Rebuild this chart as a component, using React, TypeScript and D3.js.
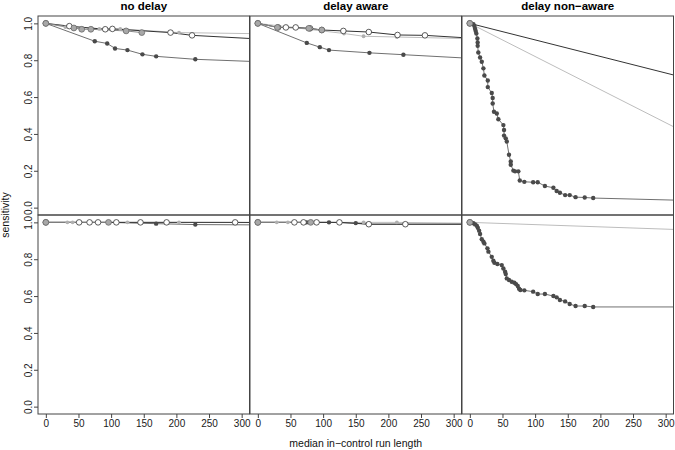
import React, { useEffect, useRef } from 'react';
import * as d3 from 'd3';

const columnTitles = ['no delay', 'delay aware', 'delay non\u2212aware'];
const xTickValues = [0, 50, 100, 150, 200, 250, 300];
const yTickValues = [0, 0.2, 0.4, 0.6, 0.8, 1.0];
const yTickLabels = ['0.0', '0.2', '0.4', '0.6', '0.8', '1.0'];

// top row, [median run length, sensitivity]
const noDelayTopLight = [[0, 1], [30, 0.98], [82, 0.97], [114, 0.97], [204, 0.95], [400, 0.94]];
const noDelayTopDark = [[0, 1], [75, 0.903], [94, 0.891], [106, 0.864], [125, 0.855], [148, 0.832], [169, 0.821], [229, 0.805], [400, 0.782]];
const noDelayTopOpen = [[0, 1], [36, 0.985], [91, 0.968], [102, 0.97], [191, 0.95], [224, 0.935], [400, 0.901]];
const noDelayTopGray = [[0, 1], [43, 0.975], [55, 0.968], [69, 0.968], [123, 0.959], [147, 0.95]];

const awareTopLight = [[0, 1], [132, 0.945], [162, 0.93], [213, 0.926], [400, 0.911]];
const awareTopDark = [[0, 1], [75, 0.894], [95, 0.871], [109, 0.855], [171, 0.84], [223, 0.83], [400, 0.796]];
const awareTopOpen = [[0, 1], [31, 0.978], [43, 0.978], [58, 0.978], [80, 0.973], [98, 0.964], [131, 0.959], [170, 0.953], [214, 0.937], [256, 0.935], [400, 0.904]];
const awareTopGray = [[0, 1], [30, 0.978], [78, 0.973], [98, 0.964]];

const nonAwareTopLight = [[0, 1], [400, 0.281]];
const nonAwareTopDark = [[0, 1], [5.5, 0.995], [7, 0.986], [8, 0.971], [9, 0.959], [10, 0.945], [11.6, 0.918], [12, 0.896], [12, 0.878], [13, 0.842], [15.7, 0.815], [18.3, 0.792], [20.8, 0.756], [22.3, 0.717], [27.5, 0.69], [27.5, 0.654], [33.6, 0.622], [35, 0.595], [35, 0.565], [37, 0.52], [41.3, 0.511], [43.7, 0.48], [51.4, 0.448], [52.4, 0.421], [52.4, 0.391], [55, 0.376], [56.6, 0.359], [60, 0.287], [62.7, 0.251], [62.7, 0.233], [66.7, 0.201], [69.3, 0.197], [74.3, 0.197], [76.5, 0.147], [83.5, 0.14], [97, 0.138], [104, 0.138], [115, 0.117], [128, 0.108], [133, 0.09], [138, 0.081], [146, 0.068], [153, 0.068], [162, 0.057], [176, 0.055], [189, 0.052], [400, 0.033]];
const nonAwareTopOpen = [[0, 1], [400, 0.641]];
const nonAwareTopGray = [[0, 1]];

// bottom row
const noDelayBottomLight = [[0, 1], [33, 1], [41, 1], [125, 1], [204, 1], [400, 0.998]];
const noDelayBottomDark = [[0, 1], [80, 1], [97, 1], [169, 0.993], [229, 0.988], [400, 0.985]];
const noDelayBottomOpen = [[0, 1], [51, 1], [67, 1], [80, 1], [108, 1], [145, 1], [185, 1], [290, 1], [400, 0.998]];
const noDelayBottomGray = [[0, 1], [96, 1]];

const awareBottomLight = [[0, 1], [29, 1], [46, 1], [84, 1], [162, 1], [213, 1], [400, 0.992]];
const awareBottomDark = [[0, 1], [75, 1], [109, 1], [150, 0.996], [170, 0.99], [400, 0.99]];
const awareBottomOpen = [[0, 1], [56, 1], [70, 1], [90, 1], [125, 1], [170, 0.99], [226, 0.99], [400, 0.99]];
const awareBottomGray = [[0, 1], [81, 1]];

const nonAwareBottomLight = [[0, 1], [400, 0.951]];
const nonAwareBottomDark = [[0, 1], [5.5, 0.995], [8.1, 0.989], [10.7, 0.982], [12.2, 0.971], [14.2, 0.955], [15.7, 0.937], [18.3, 0.908], [20.8, 0.895], [22.3, 0.886], [27, 0.859], [28.5, 0.841], [33.6, 0.813], [36, 0.792], [37.6, 0.781], [42.2, 0.774], [48.9, 0.768], [51.4, 0.75], [54, 0.732], [55, 0.72], [56.6, 0.696], [60, 0.687], [64.2, 0.678], [68.2, 0.672], [70.8, 0.665], [73.4, 0.655], [75.4, 0.64], [77.4, 0.633], [83.5, 0.631], [97, 0.624], [104, 0.611], [115, 0.611], [128, 0.6], [133, 0.593], [138, 0.579], [146, 0.571], [153, 0.557], [162, 0.546], [176, 0.546], [189, 0.541], [400, 0.541]];
const nonAwareBottomOpen = [[0, 1]];
const nonAwareBottomGray = [[0, 1]];

const rows = [
  [
    { light: noDelayTopLight, dark: noDelayTopDark, open: noDelayTopOpen, gray: noDelayTopGray },
    { light: awareTopLight, dark: awareTopDark, open: awareTopOpen, gray: awareTopGray },
    { light: nonAwareTopLight, dark: nonAwareTopDark, open: nonAwareTopOpen, gray: nonAwareTopGray },
  ],
  [
    { light: noDelayBottomLight, dark: noDelayBottomDark, open: noDelayBottomOpen, gray: noDelayBottomGray },
    { light: awareBottomLight, dark: awareBottomDark, open: awareBottomOpen, gray: awareBottomGray },
    { light: nonAwareBottomLight, dark: nonAwareBottomDark, open: nonAwareBottomOpen, gray: nonAwareBottomGray },
  ],
];

const styles = {
  light: { line: '#bdbdbd', fill: '#b0b0b0', stroke: 'none', r: 1.9 },
  dark: { line: '#707070', fill: '#4a4a4a', stroke: 'none', r: 2.2 },
  open: { line: '#333333', fill: '#ffffff', stroke: '#333', r: 2.8 },
  gray: { line: '#888888', fill: '#a8a8a8', stroke: '#6a6a6a', r: 2.9 },
};
const seriesOrder = ['light', 'dark', 'open', 'gray'];

const W = 675;
const H = 450;
const colLefts = [38, 250, 462];
const panelW = 211.5;
const rowTops = [16, 215];
const panelH = 199;
const font = 'Liberation Sans, Arial, Helvetica, sans-serif';

const x = d3.scaleLinear().domain([-12, 312]).range([0, panelW]);
const y = d3.scaleLinear().domain([-0.04, 1.04]).range([panelH, 0]);
const line = d3.line<number[]>().x(d => x(d[0])).y(d => y(d[1]));

const App = () => {
  const axesRef = useRef<SVGGElement>(null);

  useEffect(() => {
    const g = d3.select(axesRef.current);
    g.selectAll('*').remove();
    const bottom = rowTops[1] + panelH;
    colLefts.forEach(left => {
      const ax = g.append('g')
        .attr('transform', `translate(${left},${bottom})`)
        .call(d3.axisBottom(x).tickValues(xTickValues).tickSize(4).tickPadding(1.5));
      ax.select('.domain').remove();
      ax.selectAll('line').attr('stroke', '#444');
      ax.selectAll('text').attr('fill', '#1a1a1a').style('font-size', '10px').style('font-family', font);
    });
    rowTops.forEach(top => {
      const ay = g.append('g')
        .attr('transform', `translate(${colLefts[0]},${top})`)
        .call(d3.axisLeft(y).tickValues(yTickValues).tickSize(4)
          .tickFormat((d, i) => yTickLabels[i]));
      ay.select('.domain').remove();
      ay.selectAll('line').attr('stroke', '#444');
      ay.selectAll('text')
        .attr('x', null).attr('dy', null)
        .attr('text-anchor', 'middle')
        .attr('transform', 'translate(-6,0) rotate(-90)')
        .attr('fill', '#1a1a1a').style('font-size', '10px').style('font-family', font);
    });
  }, []);

  return (
    <svg width={W} height={H} style={{ position: 'absolute', left: 0, top: 0, background: '#fff' }}>
      <defs>
        <clipPath id="panelClip">
          <rect x={0} y={0} width={panelW} height={panelH} />
        </clipPath>
      </defs>
      {columnTitles.map((t, i) => (
        <text key={t} x={colLefts[i] + panelW / 2} y={9.5} textAnchor="middle"
          fontFamily={font} fontWeight="bold" fontSize={11.5} fill="#000">{t}</text>
      ))}
      {rows.map((row, ri) => row.map((panel, ci) => (
        <g key={`${ri}-${ci}`} transform={`translate(${colLefts[ci]},${rowTops[ri]})`}>
          <g clipPath="url(#panelClip)">
            {seriesOrder.map(k => (
              <path key={`l${k}`} d={line(panel[k]) || ''} fill="none" stroke={styles[k].line} strokeWidth={1} />
            ))}
            {seriesOrder.map(k => (
              <g key={`p${k}`}>
                {panel[k].map((d, j) => (
                  <circle key={j} cx={x(d[0])} cy={y(d[1])} r={styles[k].r}
                    fill={styles[k].fill} stroke={styles[k].stroke} strokeWidth={0.8} />
                ))}
              </g>
            ))}
          </g>
          <rect x={0} y={0} width={panelW} height={panelH} fill="none" stroke="#444" strokeWidth={1} />
        </g>
      )))}
      <g ref={axesRef} />
      <text x={(colLefts[0] + colLefts[2] + panelW) / 2} y={447} textAnchor="middle"
        fontFamily={font} fontSize={10.5} fill="#111">median in{'\u2212'}control run length</text>
      <text transform={`translate(9,${(rowTops[0] + rowTops[1] + panelH) / 2}) rotate(-90)`} textAnchor="middle"
        fontFamily={font} fontSize={10.5} fill="#111">sensitivity</text>
    </svg>
  );
};

export default App;
